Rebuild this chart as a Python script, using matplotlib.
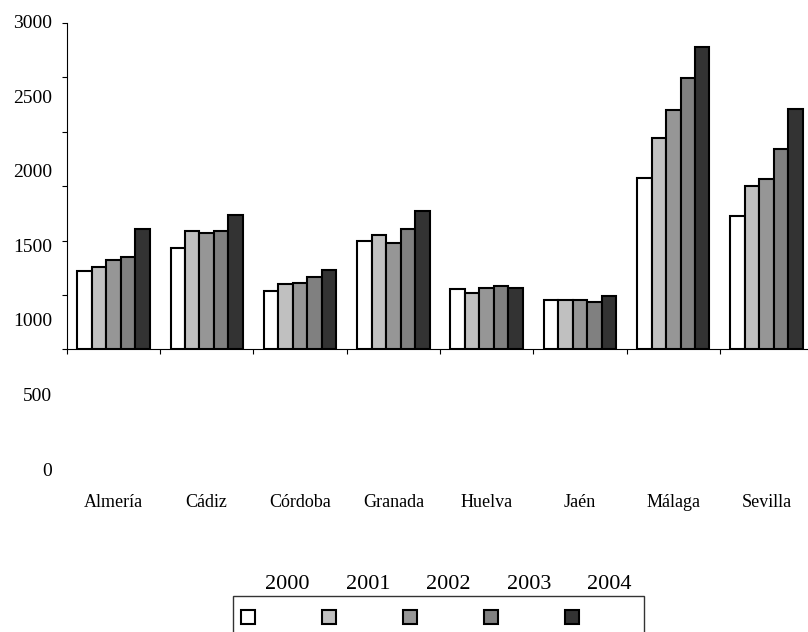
import numpy as np
import matplotlib.pyplot as plt
from matplotlib.patches import Rectangle

# --- datos ---
provincias = ['Almería', 'Cádiz', 'Córdoba', 'Granada', 'Huelva', 'Jaén', 'Málaga', 'Sevilla']
anios = ['2000', '2001', '2002', '2003', '2004']
v2000 = [724, 930, 538, 997, 553, 455, 1579, 1230]
v2001 = [758, 1089, 602, 1055, 522, 455, 1946, 1500]
v2002 = [820, 1073, 614, 979, 568, 455, 2198, 1564]
v2003 = [850, 1089, 663, 1107, 584, 439, 2498, 1845]
v2004 = [1105, 1236, 728, 1276, 568, 492, 2780, 2213]
series = [v2000, v2001, v2002, v2003, v2004]
colores = ['#FFFFFF', '#C0C0C0', '#969696', '#808080', '#333333']
y_ticks = np.arange(0, 3001, 500)

W, H = 808, 632
plt.rcParams['font.family'] = ['Liberation Serif', 'DejaVu Serif']
fig = plt.figure(figsize=(W / 100, H / 100), dpi=100)


def px(x0, y0, x1, y1):
    # rectangulo en pixeles de imagen -> coordenadas de figura
    return [x0 / W, 1 - y1 / H, (x1 - x0) / W, (y1 - y0) / H]


# --- grafico de barras ---
ax = fig.add_axes(px(66.7, 23, 813.3, 349.5))
x = np.arange(len(provincias))
w = 0.155
for i, (serie, c) in enumerate(zip(series, colores)):
    ax.bar(x + (i - 2) * w, serie, w, color=c, edgecolor='black', linewidth=1.5)

ax.set_xlim(-0.5, len(provincias) - 0.5)
ax.set_ylim(0, 3000)
ax.set_yticks(y_ticks)
ax.set_yticklabels([])
ax.tick_params(axis='y', direction='out', length=3.6, width=0.8)
ax.set_xticks(x)
ax.set_xticklabels(provincias, fontsize=13)
ax.tick_params(axis='x', which='major', length=0, pad=104)
ax.set_xticks(np.arange(-0.5, len(provincias), 1), minor=True)
ax.tick_params(axis='x', which='minor', direction='out', length=3.6, width=0.8)
ax.spines['top'].set_visible(False)
ax.spines['right'].set_visible(False)

# etiquetas del eje Y (desplazadas como en el original)
ax2 = fig.add_axes(px(66.7, 21.7, 67.7, 469))
ax2.set_ylim(0, 3000)
ax2.set_yticks(y_ticks)
ax2.set_yticklabels([str(v) for v in y_ticks], fontsize=14)
ax2.tick_params(axis='y', length=0, pad=10.5)
ax2.set_xticks([])
for s in ax2.spines.values():
    s.set_visible(False)
ax2.patch.set_visible(False)

# --- leyenda ---
fig.add_artist(Rectangle((233.3 / W, 1 - 650 / H), (644.3 - 233.3) / W, (650 - 596) / H,
                         transform=fig.transFigure, facecolor='none',
                         edgecolor='#333333', linewidth=1.0))
for i, (a, c) in enumerate(zip(anios, colores)):
    mx = 248.3 + i * 81
    fig.add_artist(Rectangle(((mx - 7) / W, 1 - 624 / H), 14 / W, 14 / H,
                             transform=fig.transFigure, facecolor=c,
                             edgecolor='black', linewidth=1.5))
    fig.text((287.5 + i * 80.4) / W, 1 - 589 / H, a, fontsize=16,
             ha='center', va='baseline')

fig.savefig('out.png', dpi=100)
